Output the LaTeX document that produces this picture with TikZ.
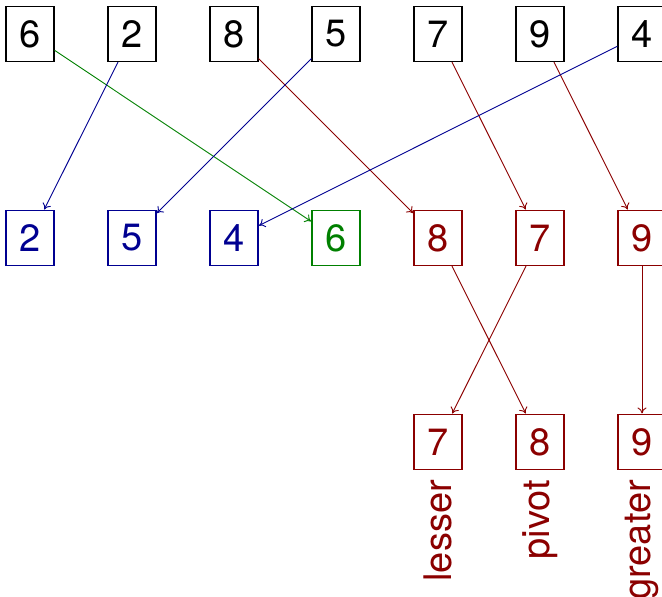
\documentclass[tikz,border=0pt]{standalone}
\usepackage{fontspec}
\setmainfont{TeX Gyre Heros}
\usetikzlibrary{arrows.meta}
\definecolor{cblue}{RGB}{0,0,145}
\definecolor{cgreen}{RGB}{0,128,0}
\definecolor{cred}{RGB}{139,0,0}
\tikzset{
  box/.style={draw, line width=1.1pt, minimum width=48pt, minimum height=55pt, inner sep=0pt,
    font=\fontsize{38}{40}\selectfont},
  link/.style={line width=0.9pt, -{To[length=6pt,width=9pt]}, shorten >=0.5pt},
  lab/.style={rotate=90, anchor=east, inner sep=0pt, font=\fontsize{38}{40}\selectfont, text=cred}
}
\begin{document}
\begin{tikzpicture}[x=1pt,y=-1pt]
\useasboundingbox (0,0) rectangle (662,597);
\clip (0,0) rectangle (662,597);
% top row
\node[box] (t0) at (30,34) {6};
\node[box] (t1) at (132,34) {2};
\node[box] (t2) at (234,34) {8};
\node[box] (t3) at (336,34) {5};
\node[box] (t4) at (438,34) {7};
\node[box] (t5) at (540,34) {9};
\node[box] (t6) at (642,34) {4};
% middle row
\node[box, draw=cblue, text=cblue] (m0) at (30,238) {2};
\node[box, draw=cblue, text=cblue] (m1) at (132,238) {5};
\node[box, draw=cblue, text=cblue] (m2) at (234,238) {4};
\node[box, draw=cgreen, text=cgreen] (m3) at (336,238) {6};
\node[box, draw=cred, text=cred] (m4) at (438,238) {8};
\node[box, draw=cred, text=cred] (m5) at (540,238) {7};
\node[box, draw=cred, text=cred] (m6) at (642,238) {9};
% bottom row
\node[box, draw=cred, text=cred] (b4) at (438,442) {7};
\node[box, draw=cred, text=cred] (b5) at (540,442) {8};
\node[box, draw=cred, text=cred] (b6) at (642,442) {9};
% labels
\node[lab] (l4) at (438,480) {lesser};
\node[lab] (l5) at (540,480) {pivot};
\node[lab] (l6) at (642,480) {greater};
% connectors
\draw[link, cgreen] (t0) -- (m3);
\draw[link, cblue] (t1) -- (m0);
\draw[link, cred] (t2) -- (m4);
\draw[link, cblue] (t3) -- (m1);
\draw[link, cred] (t4) -- (m5);
\draw[link, cred] (t5) -- (m6);
\draw[link, cblue] (t6) -- (m2);
\draw[link, cred] (m4) -- (b5);
\draw[link, cred] (m5) -- (b4);
\draw[link, cred] (m6) -- (b6);
\end{tikzpicture}
\end{document}
